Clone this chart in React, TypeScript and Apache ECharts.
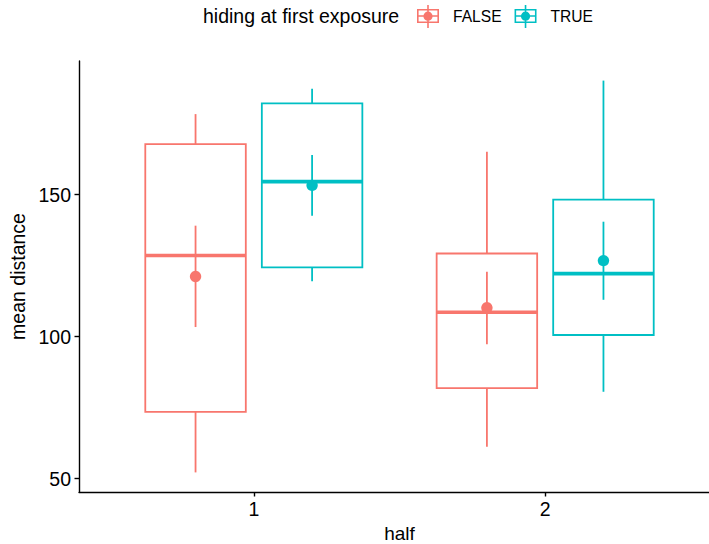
import React, { useEffect, useRef } from "react";
import * as echarts from "echarts";

const halves = ["1", "2"];
const groupNames = ["FALSE", "TRUE"];
const groupColors = ["#F8766D", "#00BFC4"];

// box statistics per half (half 1, half 2)
const falseLowerWhisker = [52.2, 61.2];
const falseQ1 = [73.5, 81.9];
const falseMedian = [128.6, 108.6];
const falseQ3 = [167.8, 129.3];
const falseUpperWhisker = [178.4, 165.1];
const falseMean = [121.2, 110.2];
const falseMeanLow = [103.4, 97.3];
const falseMeanHigh = [139.1, 122.9];

const trueLowerWhisker = [119.5, 80.6];
const trueQ1 = [124.4, 100.6];
const trueMedian = [154.6, 122.2];
const trueQ3 = [182.2, 148.3];
const trueUpperWhisker = [187.3, 190.2];
const trueMean = [153.3, 126.8];
const trueMeanLow = [142.6, 113.0];
const trueMeanHigh = [164.0, 140.5];

const yTicks = [50, 100, 150];
const xTicks = [1, 2];

const FONT = "Liberation Sans, Arial, Helvetica, sans-serif";
const DODGE = 0.2;
const BOX_W = 0.345;
const LW = 1.8;

const legendIcon =
  "path://M0 4H22V18H0Z M1.6 5.6V16.4H20.4V5.6Z M10.2 0H11.8V23H10.2Z M1.6 10.2H20.4V11.8H1.6Z M15.6 11.2A4.6 4.6 0 1 1 6.4 11.2A4.6 4.6 0 1 1 15.6 11.2Z";

function buildData(
  lw: number[], q1: number[], md: number[], q3: number[], hw: number[],
  mn: number[], ml: number[], mh: number[]
) {
  return halves.map((_, i) => [i + 1, lw[i], q1[i], md[i], q3[i], hw[i], mn[i], ml[i], mh[i]]);
}

function makeRender(dodge: number) {
  return (params: any, api: any) => {
    const c = api.value(0) + dodge;
    const lw = api.value(1), q1 = api.value(2), md = api.value(3), q3 = api.value(4), hw = api.value(5);
    const mn = api.value(6), ml = api.value(7), mh = api.value(8);
    const color = api.visual("color");
    const p = (x: number, y: number) => api.coord([x, y]);
    const line = (a: number[], b: number[], w: number) => ({
      type: "line",
      shape: { x1: a[0], y1: a[1], x2: b[0], y2: b[1] },
      style: { stroke: color, lineWidth: w },
    });
    const tl = p(c - BOX_W / 2, q3);
    const br = p(c + BOX_W / 2, q1);
    const pm = p(c, mn);
    return {
      type: "group",
      children: [
        line(p(c, q3), p(c, hw), LW),
        line(p(c, q1), p(c, lw), LW),
        {
          type: "rect",
          shape: { x: tl[0], y: tl[1], width: br[0] - tl[0], height: br[1] - tl[1] },
          style: { fill: "#ffffff", stroke: color, lineWidth: LW },
        },
        line(p(c - BOX_W / 2, md), p(c + BOX_W / 2, md), 3.6),
        line(p(c, ml), p(c, mh), LW),
        { type: "circle", shape: { cx: pm[0], cy: pm[1], r: 5.7 }, style: { fill: color } },
      ],
    };
  };
}

export default function App() {
  const ref = useRef<HTMLDivElement>(null);
  useEffect(() => {
    if (!ref.current) return;
    const chart = echarts.init(ref.current, undefined, { renderer: "svg" });
    const seriesData = [
      buildData(falseLowerWhisker, falseQ1, falseMedian, falseQ3, falseUpperWhisker, falseMean, falseMeanLow, falseMeanHigh),
      buildData(trueLowerWhisker, trueQ1, trueMedian, trueQ3, trueUpperWhisker, trueMean, trueMeanLow, trueMeanHigh),
    ];
    chart.setOption({
      animation: false,
      backgroundColor: "#ffffff",
      textStyle: { fontFamily: FONT },
      grid: { left: 79, top: 61, width: 641, height: 431, containLabel: false, outerBoundsMode: "none" },
      legend: {
        left: 417,
        top: 5,
        padding: 0,
        itemWidth: 22,
        itemHeight: 23,
        itemGap: 13,
        selectedMode: false,
        textStyle: { fontSize: 15.6, color: "#000", fontFamily: FONT, padding: [0, 0, 0, 9] },
        data: groupNames.map((n) => ({ name: n, icon: legendIcon })),
      },
      graphic: [
        {
          type: "text",
          x: 203,
          y: 15.5,
          style: {
            text: "hiding at first exposure",
            fontSize: 19.5,
            fontFamily: FONT,
            fill: "#000",
            verticalAlign: "middle",
          },
        },
      ],
      xAxis: {
        type: "value",
        min: 0.4,
        max: 2.6,
        name: "half",
        nameLocation: "middle",
        nameGap: 27,
        nameTextStyle: { fontSize: 19, color: "#000", fontFamily: FONT, lineHeight: 20 },
        axisLine: { show: true, lineStyle: { color: "#000", width: 1.4 } },
        axisTick: { show: true, length: 4.5, customValues: xTicks, lineStyle: { color: "#000", width: 1.4 } },
        axisLabel: {
          customValues: xTicks,
          margin: 7,
          fontSize: 19.5,
          color: "#000",
          fontFamily: FONT,
          formatter: (v: number) => halves[Math.round(v) - 1] ?? "",
        },
        splitLine: { show: false },
      },
      yAxis: {
        type: "value",
        min: 45.3,
        max: 197.1,
        name: "mean distance",
        nameLocation: "middle",
        nameGap: 44,
        nameTextStyle: { fontSize: 19.5, color: "#000", fontFamily: FONT },
        axisLine: { show: true, lineStyle: { color: "#000", width: 1.4 } },
        axisTick: { show: true, length: 4.5, customValues: yTicks, lineStyle: { color: "#000", width: 1.4 } },
        axisLabel: { customValues: yTicks, margin: 8, fontSize: 19.5, color: "#000", fontFamily: FONT },
        splitLine: { show: false },
      },
      series: groupNames.map((name, gi) => ({
        type: "custom",
        name,
        itemStyle: { color: groupColors[gi] },
        renderItem: makeRender(gi === 0 ? -DODGE : DODGE),
        encode: { x: 0, y: [1, 2, 3, 4, 5] },
        data: seriesData[gi],
      })),
    });
    return () => chart.dispose();
  }, []);
  return (
    <div
      ref={ref}
      style={{ position: "fixed", left: 0, top: 0, width: 709, height: 544, overflow: "hidden", background: "#fff" }}
    />
  );
}
